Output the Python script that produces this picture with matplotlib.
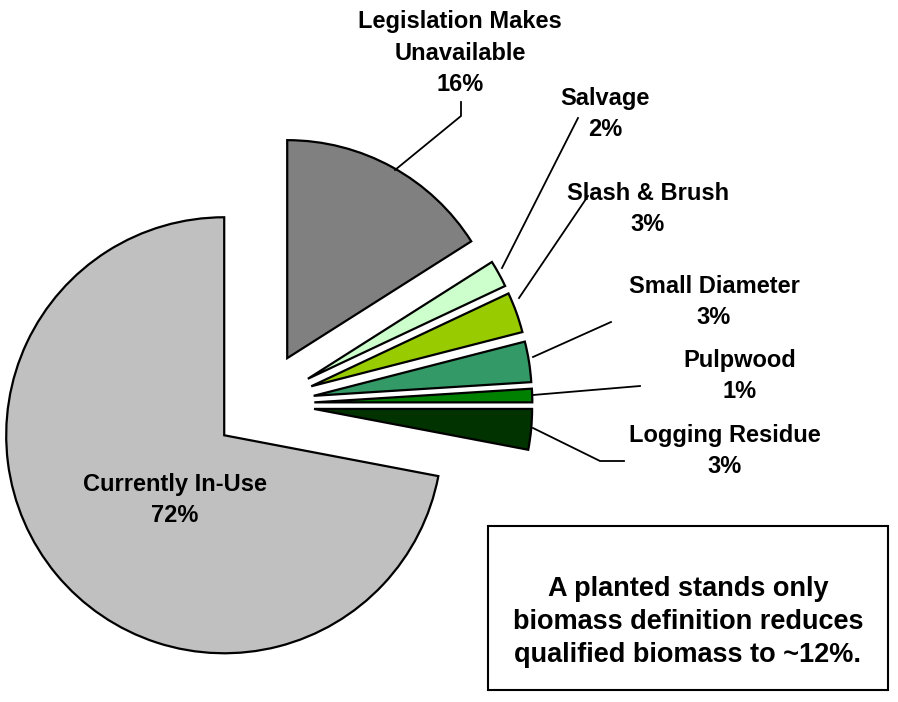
import matplotlib.pyplot as plt
from matplotlib.patches import Rectangle

plt.rcParams['font.family'] = ['Liberation Sans', 'DejaVu Sans']

# data
categories = ["Legislation Makes\nUnavailable", "Salvage", "Slash & Brush",
              "Small Diameter", "Pulpwood", "Logging Residue", "Currently In-Use"]
shares = [16, 2, 3, 3, 1, 3, 72]
colors = ["#808080", "#CCFFCC", "#99CC00", "#339966", "#008000", "#003300", "#C0C0C0"]
explode = [0.24, 0.24, 0.24, 0.24, 0.24, 0.24, 0.225]

H = 702  # figure height in px, image y runs downwards
R = 218


def Y(y):
    return H - y


fig = plt.figure(figsize=(8.98, 7.02), dpi=100)
ax = fig.add_axes([0, 0, 1, 1])

# matplotlib explode is in data units, so scale by radius
ax.pie(shares, explode=[e * R for e in explode], colors=colors, startangle=90,
       counterclock=False, radius=R, center=(262, Y(404)),
       wedgeprops=dict(edgecolor="black", linewidth=1.6))

ax.set_xlim(0, 898)
ax.set_ylim(0, H)
ax.set_aspect("equal")
ax.axis("off")

# outside labels: text position and leader line (image px)
label_pos = [(460, 53), (605, 114), (648, 209), (714, 302), (740, 376), (725, 451)]
leaders = [
    [(395, 170), (461, 116), (461, 102)],
    [(502, 268), (578, 118)],
    [(519, 298), (588, 196)],
    [(533, 357), (611, 322)],
    [(533, 395), (640, 386)],
    [(533, 428), (600, 461), (624, 461)],
]

for name, val, (tx, ty), pts in zip(categories[:-1], shares[:-1], label_pos, leaders):
    ax.text(tx, Y(ty), f"{name}\n{val}%", ha="center", va="center",
            fontsize=17, fontweight="bold", linespacing=1.45)
    ax.plot([p[0] for p in pts], [Y(p[1]) for p in pts], color="black", lw=1.3)

ax.text(175, Y(500), f"{categories[-1]}\n{shares[-1]}%", ha="center", va="center",
        fontsize=17, fontweight="bold", linespacing=1.45)

# note box
ax.add_patch(Rectangle((488, Y(690)), 400, 164, facecolor="white",
                       edgecolor="black", linewidth=1.5))
ax.text(688, Y(622), "A planted stands only\nbiomass definition reduces\nqualified biomass to ~12%.",
        ha="center", va="center", fontsize=19.5, fontweight="bold", linespacing=1.35)

fig.savefig("out.png", dpi=100)
